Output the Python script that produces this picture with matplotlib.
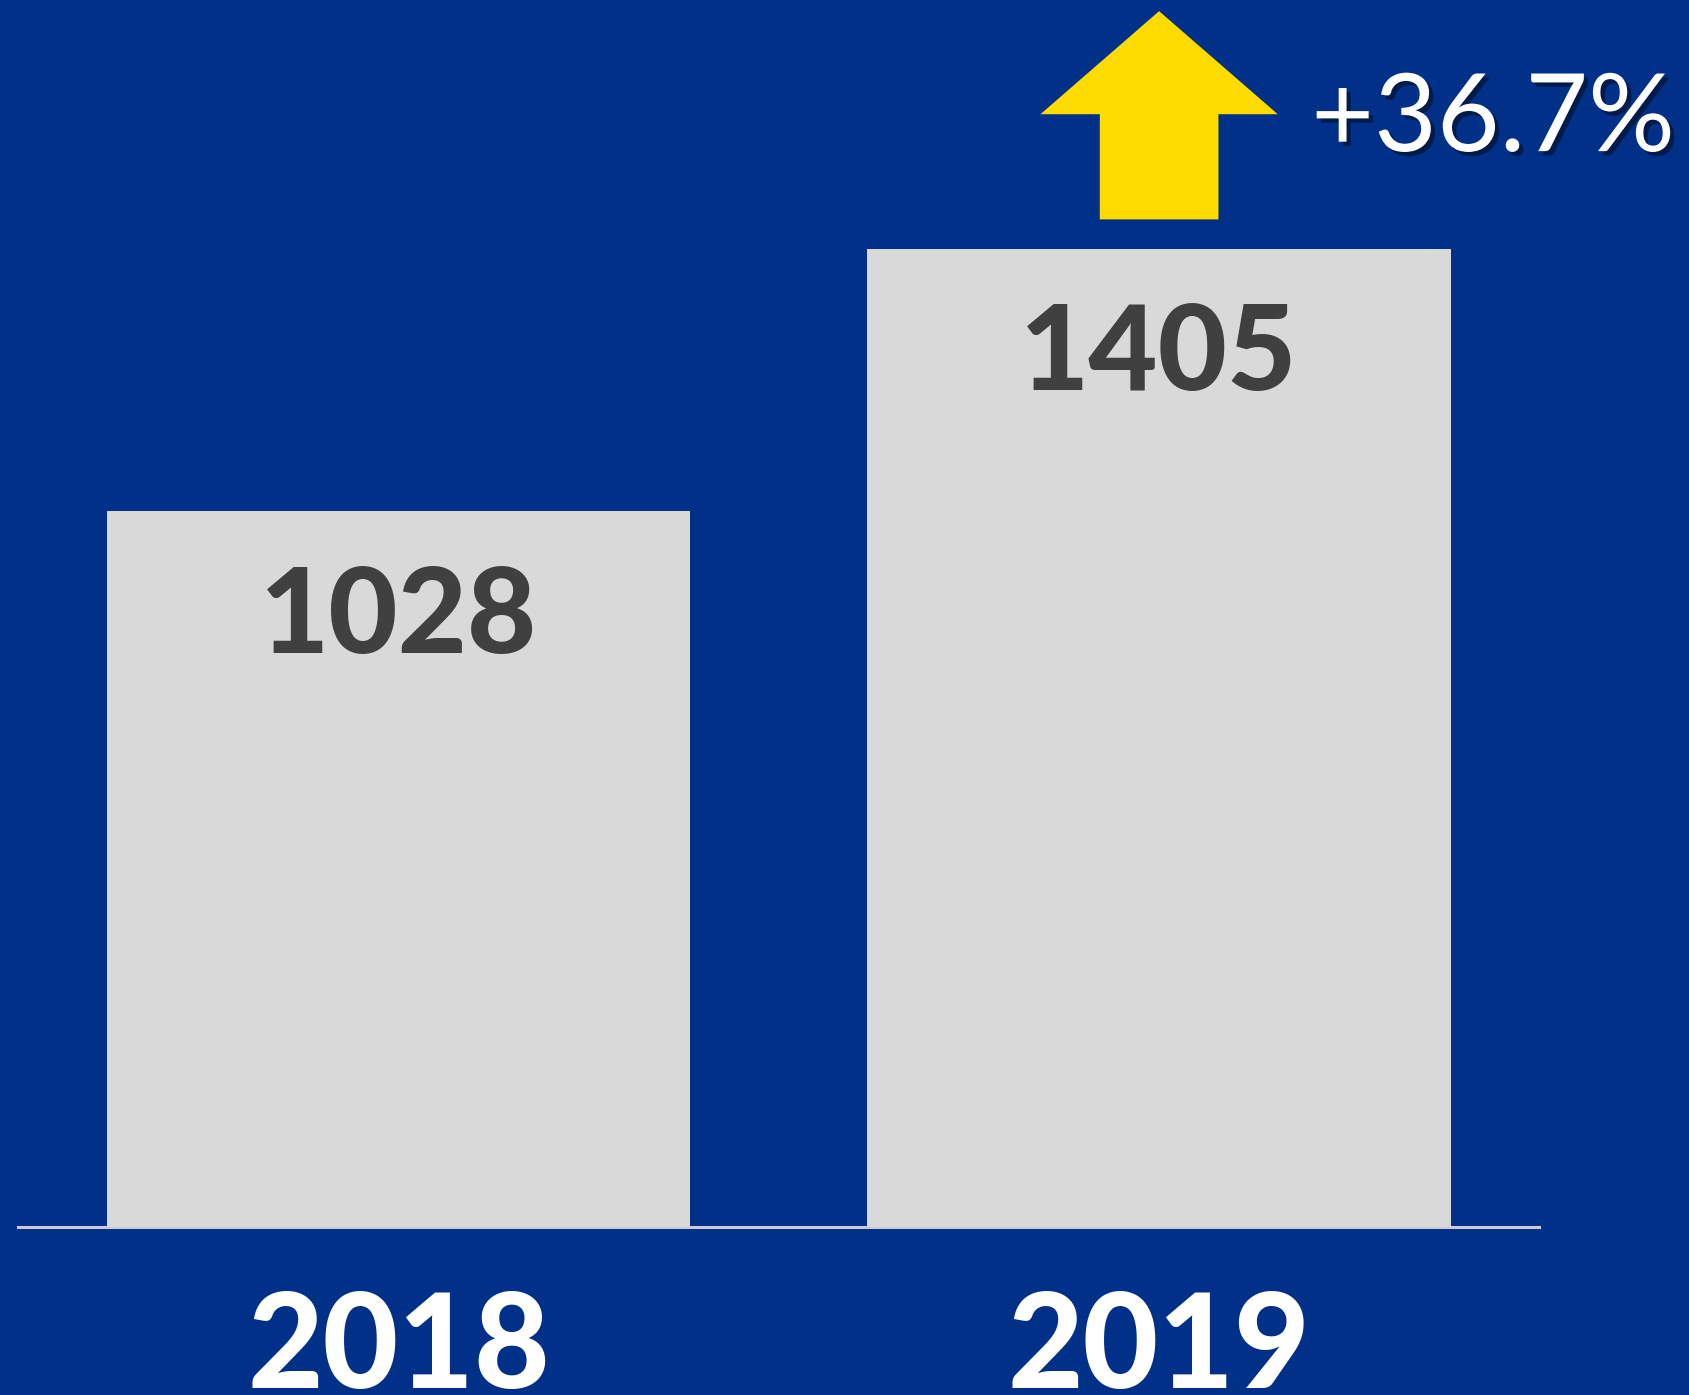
import matplotlib

matplotlib.use("Agg")
import matplotlib.patches as mpatches
import matplotlib.patheffects as pe
import matplotlib.pyplot as plt

# data
years = ["2018", "2019"]
values = [1028, 1405]

BG = "#003087"
BAR = "#d9d9d9"
LABEL = "#404040"
ARROW = "#ffdc00"

fig = plt.figure(figsize=(16.9, 13.95), dpi=100, facecolor=BG)
ax = fig.add_axes([0, 0, 1, 1])
ax.set_facecolor(BG)
ax.set_xlim(-0.524, 1.698)
ax.set_ylim(-241, 1762)
ax.axis("off")

x = list(range(len(years)))
ax.axhline(0, xmin=(-0.5 + 0.524) / 2.222, xmax=(1.5 + 0.524) / 2.222,
           color="#c9ccd6", lw=2.2, zorder=1)
ax.bar(x, values, width=0.767, color=BAR, zorder=2)

for xi, v, yr in zip(x, values, years):
    ax.text(xi, v - 203, f"{v}", ha="center", va="baseline",
            fontsize=86, fontweight="black", family="Lato", color=LABEL, zorder=3)
    ax.text(xi, -231, yr, ha="center", va="baseline",
            fontsize=94, fontweight="black", family="Lato", color="white")

# growth arrow above the 2019 bar
change = (values[1] / values[0] - 1) * 100
base = values[1] + 42
arrow = mpatches.FancyArrow(x[1], base, 0, 299, width=0.156, head_width=0.312,
                            head_length=148, length_includes_head=True,
                            color=ARROW, lw=0, zorder=3)
ax.add_patch(arrow)

ax.text(x[1] + 0.2, 1545, f"+{change:.1f}%", ha="left", va="baseline",
        fontsize=78, family="Lato", fontweight="normal", color="white",
        path_effects=[pe.SimplePatchShadow(offset=(3, -3), shadow_rgbFace="black",
                                           alpha=0.45),
                      pe.Normal()])

fig.savefig("out.png", facecolor=BG)
